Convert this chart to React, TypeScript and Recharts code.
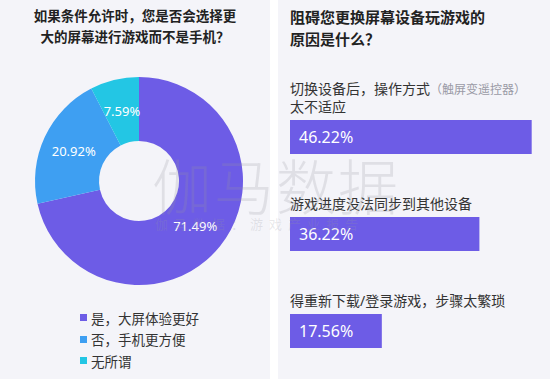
import React from 'react';
import { PieChart, Pie, Cell, BarChart, Bar, XAxis, YAxis, LabelList, Legend } from 'recharts';

const FONT = "'Noto Sans', 'Noto Sans CJK SC', sans-serif";
const PANEL_BG = '#f4f4f9';

// left: donut
const choiceNames = ['是，大屏体验更好', '否，手机更方便', '无所谓'];
const choiceValues = [71.49, 20.92, 7.59];
const choiceColors = ['#6d5ce6', '#3e9ff2', '#23c6e4'];

// right: bars
const reasonLine1 = ['切换设备后，操作方式', '游戏进度没法同步到其他设备', '得重新下载/登录游戏，步骤太繁琐'];
const reasonNote = ['（触屏变遥控器）', '', ''];
const reasonLine2 = ['太不适应', '', ''];
const reasonValues = [46.22, 36.22, 17.56];

const pieData = choiceNames.map((name, i) => ({ name, value: choiceValues[i] }));
const barData = reasonLine1.map((name, i) => ({ name, value: reasonValues[i] }));

const RADIAN = Math.PI / 180;

const renderPieLabel = (props: any) => {
  const { cx, cy, midAngle, innerRadius, outerRadius, value } = props;
  const r = (innerRadius + outerRadius) / 2;
  const x = cx + r * Math.cos(-midAngle * RADIAN);
  const y = cy + r * Math.sin(-midAngle * RADIAN);
  return (
    <text x={x} y={y} fill="#fff" fontSize={13} fontFamily={FONT} textAnchor="middle" dominantBaseline="central">
      {`${value.toFixed(2)}%`}
    </text>
  );
};

const renderLegend = () => (
  <div style={{ fontFamily: FONT, fontSize: 13.5, color: '#333' }}>
    {choiceNames.map((name, i) => (
      <div key={name} style={{ display: 'flex', alignItems: 'center', height: 21.5 }}>
        <span style={{ width: 7, height: 7, background: choiceColors[i], marginRight: 4, display: 'inline-block' }} />
        {name}
      </div>
    ))}
  </div>
);

const renderReasonName = (props: any) => {
  const { x, y, index } = props;
  const last = reasonLine2[index];
  return (
    <g fontFamily={FONT} fontSize={14} fill="#333">
      <text x={x} y={last ? y - 26 : y - 8}>
        {reasonLine1[index]}
        {reasonNote[index] && (
          <tspan fill="#9a9aa6" fontSize={12}>{reasonNote[index]}</tspan>
        )}
      </text>
      {last && <text x={x} y={y - 8}>{last}</text>}
    </g>
  );
};

const renderReasonValue = (props: any) => {
  const { x, y, height, value } = props;
  return (
    <text x={x + 9} y={y + height / 2} fill="#fff" fontSize={16} fontFamily={FONT} dominantBaseline="central">
      {`${Number(value).toFixed(2)}%`}
    </text>
  );
};

export default function App() {
  return (
    <div style={{ position: 'absolute', left: 0, top: 0, width: 550, height: 379, background: '#fff', overflow: 'hidden' }}>
      <div style={{ position: 'absolute', left: 0, top: 0, width: 270, height: 379, background: PANEL_BG }}>
        <div style={{ position: 'absolute', left: 0, top: 6, width: 270, textAlign: 'center', fontFamily: FONT, fontSize: 13.5, fontWeight: 700, color: '#222', lineHeight: '21px' }}>
          如果条件允许时，您是否会选择更<br />大的屏幕进行游戏而不是手机？
        </div>
        <PieChart width={270} height={379}>
          <Pie
            data={pieData}
            dataKey="value"
            nameKey="name"
            cx={134}
            cy={176}
            innerRadius={40}
            outerRadius={104}
            startAngle={90}
            endAngle={-270}
            stroke="none"
            label={renderPieLabel}
            labelLine={false}
            isAnimationActive={false}
          >
            {pieData.map((_, idx) => (
              <Cell key={idx} fill={choiceColors[idx]} />
            ))}
          </Pie>
          <Legend content={renderLegend} wrapperStyle={{ left: 80, top: 307, width: 160 }} />
        </PieChart>
      </div>

      <div style={{ position: 'absolute', left: 278, top: 0, width: 272, height: 379, background: PANEL_BG }}>
        <div style={{ position: 'absolute', left: 12, top: 6, fontFamily: FONT, fontSize: 15, fontWeight: 700, color: '#222', lineHeight: '22px' }}>
          阻碍您更换屏幕设备玩游戏的<br />原因是什么？
        </div>
        <BarChart layout="vertical" width={272} height={379} data={barData} margin={{ top: 88, right: 9, bottom: 0, left: 12 }}>
          <XAxis type="number" domain={[0, 48]} hide />
          <YAxis type="category" dataKey="name" hide />
          <Bar dataKey="value" fill="#6d5ce6" barSize={34} isAnimationActive={false}>
            <LabelList dataKey="name" content={renderReasonName} />
            <LabelList dataKey="value" content={renderReasonValue} />
          </Bar>
        </BarChart>
      </div>

      <div style={{ position: 'absolute', left: 152, top: 140, fontFamily: "'Noto Sans CJK SC', sans-serif", fontSize: 60, fontWeight: 300, color: 'rgba(150,150,160,0.22)', letterSpacing: 2, pointerEvents: 'none' }}>
        伽马数据
      </div>
      <div style={{ position: 'absolute', left: 155, top: 214, fontFamily: "'Noto Sans CJK SC', sans-serif", fontSize: 13, color: 'rgba(150,150,160,0.22)', letterSpacing: 6, pointerEvents: 'none' }}>
        伽马数据：游戏产业报告
      </div>
    </div>
  );
}
